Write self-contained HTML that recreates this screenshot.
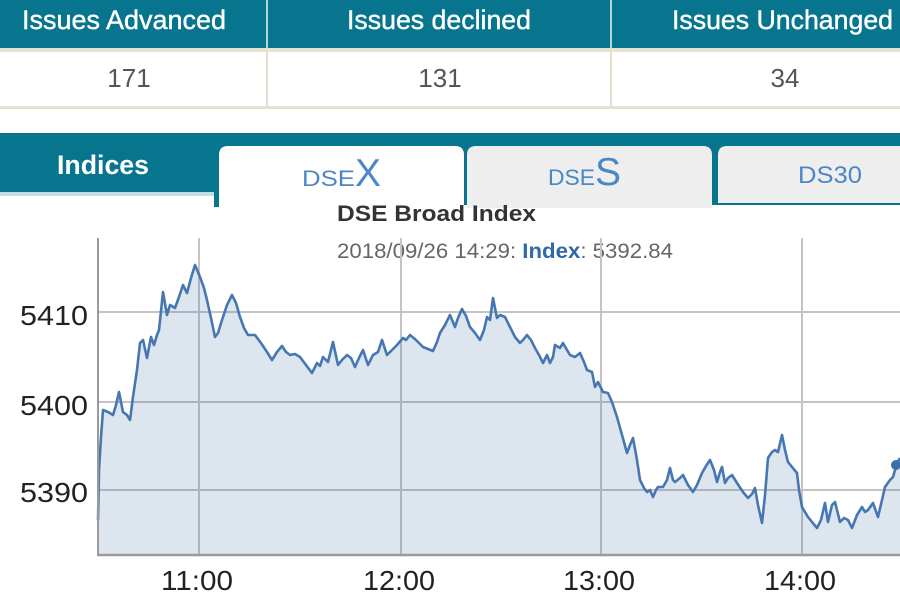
<!DOCTYPE html>
<html><head><meta charset="utf-8">
<style>
html,body{margin:0;padding:0;background:#fff;}
body{width:900px;height:600px;overflow:hidden;}
svg{display:block;font-family:"Liberation Sans",Arial,sans-serif;}
</style></head>
<body>
<svg width="900" height="600" viewBox="0 0 900 600" xmlns="http://www.w3.org/2000/svg">
  <!-- top table -->
  <rect x="0" y="0" width="900" height="48" fill="#08758f"/>
  <rect x="266" y="0" width="2" height="48" fill="#b8d5dc"/>
  <rect x="610" y="0" width="2" height="48" fill="#b8d5dc"/>
  <rect x="0" y="48" width="900" height="4" fill="#e6e2d2"/>
  <rect x="266" y="52" width="2" height="55" fill="#e3dfcd"/>
  <rect x="610" y="52" width="2" height="55" fill="#e3dfcd"/>
  <rect x="0" y="106" width="900" height="3" fill="#e6e2d2"/>
  <g fill="#ffffff" stroke="#ffffff" stroke-width="0.4" font-size="27">
    <text x="22" y="29" textLength="204" lengthAdjust="spacingAndGlyphs">Issues Advanced</text>
    <text x="347" y="29" textLength="184" lengthAdjust="spacingAndGlyphs">Issues declined</text>
    <text x="672" y="29" textLength="221" lengthAdjust="spacingAndGlyphs">Issues Unchanged</text>
  </g>
  <g fill="#555" font-size="26" text-anchor="middle">
    <text x="129" y="87">171</text>
    <text x="440" y="87">131</text>
    <text x="785" y="87">34</text>
  </g>

  <!-- tab band -->
  <rect x="0" y="133" width="900" height="72" fill="#08758f"/>
  <rect x="0" y="192" width="215" height="20" fill="#ffffff"/>
  <rect x="0" y="192" width="215" height="4" fill="#c3dde3"/>
  <rect x="214" y="190" width="5" height="17" fill="#08758f"/>
  <text x="57" y="174" font-size="27" font-weight="bold" fill="#ffffff" textLength="92" lengthAdjust="spacingAndGlyphs">Indices</text>

  <!-- DSEX tab (active) -->
  <path d="M219,212 L219,155 Q219,146 228,146 L455,146 Q464,146 464,155 L464,212 Z" fill="#ffffff"/>
  <text x="302" y="186" fill="#4a87c8"><tspan font-size="22" textLength="53" lengthAdjust="spacingAndGlyphs">DSE</tspan><tspan font-size="39">X</tspan></text>

  <!-- DSES tab -->
  <path d="M467,208 L467,155 Q467,146 476,146 L703,146 Q712,146 712,155 L712,208 Z" fill="#eeeeee"/>
  <text x="548" y="185" fill="#4a87c8"><tspan font-size="22" textLength="47" lengthAdjust="spacingAndGlyphs">DSE</tspan><tspan font-size="39">S</tspan></text>

  <!-- DS30 tab -->
  <path d="M718,203 L718,155 Q718,146 727,146 L900,146 L900,203 Z" fill="#eeeeee"/>
  <text x="798" y="183" font-size="24" fill="#4a87c8" textLength="64" lengthAdjust="spacingAndGlyphs">DS30</text>

  <!-- chart titles -->
  <text x="337" y="221" font-size="22" font-weight="bold" fill="#333" textLength="199" lengthAdjust="spacingAndGlyphs">DSE Broad Index</text>
  <text x="337" y="258" font-size="21" fill="#666" textLength="336" lengthAdjust="spacingAndGlyphs">2018/09/26 14:29: <tspan font-weight="bold" fill="#2f6aa8">Index</tspan>: 5392.84</text>

  <!-- gridlines -->
  <g stroke="#c4c4c4" stroke-width="2">
    <line x1="98" y1="312" x2="900" y2="312"/>
    <line x1="98" y1="402" x2="900" y2="402"/>
    <line x1="98" y1="490" x2="900" y2="490"/>
    <line x1="199" y1="238" x2="199" y2="555"/>
    <line x1="401" y1="238" x2="401" y2="555"/>
    <line x1="601" y1="238" x2="601" y2="555"/>
    <line x1="802" y1="238" x2="802" y2="555"/>
  </g>

  <!-- series -->
  <g id="series">
  <path fill="rgba(69,114,167,0.18)" stroke="none" d="M98,555 L98,520 L99,470 L101,437 L103,410 L108,412 L113,415 L116,405 L119,392 L123,412 L127,415 L130,420 L133,397 L137,370 L140,343 L143,340 L147,358 L151,337 L154,345 L157,335 L159,330 L163,292 L167,315 L170,305 L175,308 L179,297 L183,285 L187,293 L191,278 L195,265 L200,277 L204,288 L207,300 L211,318 L215,337 L218,333 L222,320 L227,305 L232,295 L236,303 L240,317 L244,328 L248,335 L255,335 L261,343 L267,352 L272,360 L277,352 L282,346 L286,352 L290,355 L295,354 L300,357 L306,365 L312,373 L317,363 L320,366 L323,357 L326,360 L328,362 L333,342 L338,365 L342,360 L347,355 L351,358 L355,367 L359,358 L363,350 L368,365 L373,355 L378,352 L382,340 L387,355 L392,350 L397,345 L403,338 L406,340 L410,335 L416,340 L423,347 L428,349 L433,351 L437,342 L440,333 L445,325 L450,315 L455,327 L458,318 L462,309 L466,316 L470,327 L475,333 L480,340 L484,330 L487,317 L490,320 L493,298 L497,318 L500,315 L505,317 L510,327 L515,337 L520,343 L523,340 L527,335 L531,340 L535,348 L539,355 L543,363 L547,355 L550,363 L553,357 L555,345 L560,348 L563,343 L567,350 L570,355 L575,357 L580,353 L584,362 L587,370 L592,372 L595,387 L598,382 L603,392 L608,393 L612,402 L617,417 L622,435 L627,453 L630,445 L633,438 L637,460 L640,480 L644,488 L647,492 L650,490 L653,497 L656,490 L658,487 L663,487 L667,480 L670,468 L673,480 L675,482 L680,478 L683,475 L688,485 L693,492 L697,485 L702,473 L706,466 L710,460 L714,470 L717,482 L720,472 L722,467 L725,483 L728,478 L732,475 L737,483 L743,492 L748,498 L752,494 L755,488 L758,505 L762,523 L765,495 L768,458 L772,452 L775,450 L778,452 L782,435 L785,450 L788,462 L792,467 L797,473 L799,490 L802,507 L808,517 L812,522 L817,528 L821,520 L825,503 L828,522 L832,505 L835,502 L840,522 L844,518 L848,520 L852,528 L857,515 L862,507 L865,512 L868,510 L873,503 L878,517 L882,500 L885,487 L890,480 L893,477 L897,463 L900,458 L900,555 Z"/>
  <polyline fill="none" stroke="#4677b3" stroke-width="2.6" stroke-linejoin="round" points="98,520 99,470 101,437 103,410 108,412 113,415 116,405 119,392 123,412 127,415 130,420 133,397 137,370 140,343 143,340 147,358 151,337 154,345 157,335 159,330 163,292 167,315 170,305 175,308 179,297 183,285 187,293 191,278 195,265 200,277 204,288 207,300 211,318 215,337 218,333 222,320 227,305 232,295 236,303 240,317 244,328 248,335 255,335 261,343 267,352 272,360 277,352 282,346 286,352 290,355 295,354 300,357 306,365 312,373 317,363 320,366 323,357 326,360 328,362 333,342 338,365 342,360 347,355 351,358 355,367 359,358 363,350 368,365 373,355 378,352 382,340 387,355 392,350 397,345 403,338 406,340 410,335 416,340 423,347 428,349 433,351 437,342 440,333 445,325 450,315 455,327 458,318 462,309 466,316 470,327 475,333 480,340 484,330 487,317 490,320 493,298 497,318 500,315 505,317 510,327 515,337 520,343 523,340 527,335 531,340 535,348 539,355 543,363 547,355 550,363 553,357 555,345 560,348 563,343 567,350 570,355 575,357 580,353 584,362 587,370 592,372 595,387 598,382 603,392 608,393 612,402 617,417 622,435 627,453 630,445 633,438 637,460 640,480 644,488 647,492 650,490 653,497 656,490 658,487 663,487 667,480 670,468 673,480 675,482 680,478 683,475 688,485 693,492 697,485 702,473 706,466 710,460 714,470 717,482 720,472 722,467 725,483 728,478 732,475 737,483 743,492 748,498 752,494 755,488 758,505 762,523 765,495 768,458 772,452 775,450 778,452 782,435 785,450 788,462 792,467 797,473 799,490 802,507 808,517 812,522 817,528 821,520 825,503 828,522 832,505 835,502 840,522 844,518 848,520 852,528 857,515 862,507 865,512 868,510 873,503 878,517 882,500 885,487 890,480 893,477 897,463 900,458"/>
  <circle cx="896" cy="465" r="5" fill="#3d6ea9"/>
  </g>

  <!-- axes -->
  <line x1="98" y1="238" x2="98" y2="556" stroke="#9a9a9a" stroke-width="2"/>
  <line x1="97" y1="555" x2="900" y2="555" stroke="#9a9a9a" stroke-width="2.5"/>

  <!-- y labels -->
  <g font-size="28" fill="#222">
    <text x="20" y="325" textLength="68" lengthAdjust="spacingAndGlyphs">5410</text>
    <text x="20" y="415" textLength="68" lengthAdjust="spacingAndGlyphs">5400</text>
    <text x="20" y="502" textLength="68" lengthAdjust="spacingAndGlyphs">5390</text>
  </g>
  <!-- x labels -->
  <g font-size="28" fill="#222">
    <text x="161" y="590" textLength="72" lengthAdjust="spacingAndGlyphs">11:00</text>
    <text x="363" y="590" textLength="72" lengthAdjust="spacingAndGlyphs">12:00</text>
    <text x="563" y="590" textLength="72" lengthAdjust="spacingAndGlyphs">13:00</text>
    <text x="764" y="590" textLength="72" lengthAdjust="spacingAndGlyphs">14:00</text>
  </g>
</svg>
</body></html>
